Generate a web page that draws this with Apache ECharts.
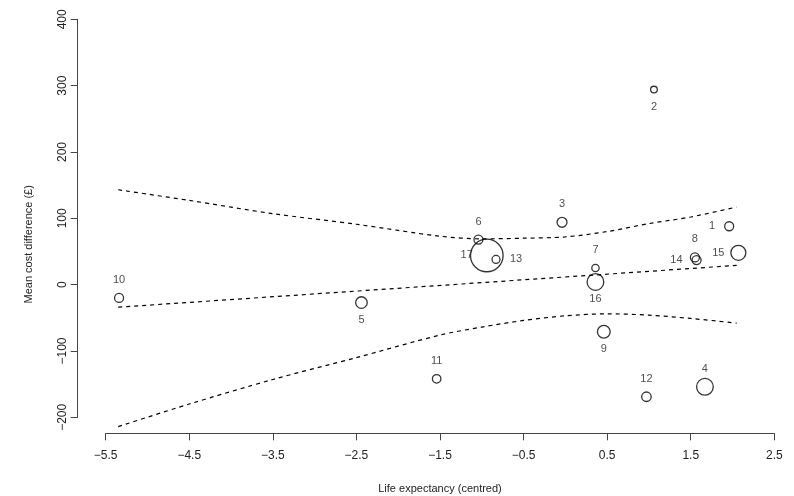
<!DOCTYPE html>
<html>
<head>
<meta charset="utf-8">
<script src="https://cdn.jsdelivr.net/npm/echarts@6.0.0/dist/echarts.min.js"></script>
<style>
html, body { margin: 0; padding: 0; background: #fff; }
#chart { width: 794px; height: 496px; }
</style>
</head>
<body>
<div id="chart"></div>
<script>
//   studies
var studyIds = ['1', '2', '3', '4', '5', '6', '7', '8', '9', '10', '11', '12', '13', '14', '15', '16', '17'];
var lifeExp  = [1.96, 1.06, -0.04, 1.67, -2.44, -1.04, 0.36, 1.55, 0.46, -5.34, -1.54, 0.97, -0.83, 1.57, 2.07, 0.36, -0.94];
var costDiff = [88, 294, 94, -154, -27, 68, 25, 41, -71, -20, -142, -169, 38, 37, 48, 4, 44];
var weights  = [9, 5, 11, 31, 15, 9, 6, 9, 18, 9, 8, 10, 7, 9, 25, 31, 118];

//   fitted line
var fitX = [-5.35, 2.05];
var fitY = [-34, 29];

//   confidence band
var bandX     = [-5.35, -4.5, -3.5, -2.5, -1.5, -1.0, -0.5, 0, 0.5, 1.0, 1.5, 2.05];
var bandUpper = [143, 127, 107, 91, 73, 69, 70, 72, 80, 92, 102, 117];
var bandLower = [-214, -180, -143, -110, -76, -64, -54, -47, -44, -46, -51, -58];

//   ticks
var xTicks = [-5.5, -4.5, -3.5, -2.5, -1.5, -0.5, 0.5, 1.5, 2.5];
var yTicks = [-200, -100, 0, 100, 200, 300, 400];

var FONT = '"Liberation Sans", Arial, sans-serif';

//   which side the number sits
var labelSide = {
	'1': 'left', '2': 'bottom', '3': 'top', '4': 'top', '5': 'bottom', '6': 'top',
	'7': 'top', '8': 'top', '9': 'bottom', '10': 'top', '11': 'top', '12': 'top',
	'13': 'right', '14': 'left', '15': 'left', '16': 'bottom', '17': 'left'
};

var labelFor = function (id) {
	var side = labelSide[id];
	var l = { show: true, position: 'inside', formatter: id, fontSize: 11, color: '#222', fontFamily: FONT };
	if (side == 'top') { l.offset = [0, -18]; }
	if (side == 'bottom') { l.offset = [0, 17]; }
	if (side == 'left') { l.offset = [-14, 0]; l.align = 'right'; }
	if (side == 'right') { l.offset = [14, 0]; l.align = 'left'; }
	return l;
};

var minus = function (v) {
	return String(v).replace('-', '\u2212');
};

var points = [];
for (var i = 0; i < studyIds.length; i++) {
	points.push({ name: studyIds[i], value: [lifeExp[i], costDiff[i], weights[i]], label: labelFor(studyIds[i]) });
}

var zip = function (xs, ys) {
	var out = [];
	for (var i = 0; i < xs.length; i++) { out.push([xs[i], ys[i]]); }
	return out;
};

var dashed = { color: '#000', width: 1.2, type: [4, 4] };
var axisColor = '#444';

var chart = echarts.init(document.getElementById('chart'));
var option = {
	animation: false,
	backgroundColor: '#fff',
	textStyle: { fontFamily: FONT },
	grid: { left: 105.7, right: 19.7, top: 19.3, bottom: 78.7, outerBoundsMode: 'none' },
	xAxis: {
		type: 'value',
		min: -5.5,
		max: 2.5,
		offset: 16,
		name: 'Life expectancy (centred)',
		nameLocation: 'middle',
		nameGap: 50,
		nameTextStyle: { fontSize: 11, color: '#222', fontFamily: FONT },
		axisLine: { onZero: false, lineStyle: { color: axisColor } },
		axisTick: { length: 7, customValues: xTicks, lineStyle: { color: axisColor } },
		axisLabel: { customValues: xTicks, margin: 16, fontSize: 12, color: '#222', fontFamily: FONT, formatter: minus },
		splitLine: { show: false }
	},
	yAxis: {
		type: 'value',
		min: -200,
		max: 400,
		offset: 28,
		name: 'Mean cost difference (\u00a3)',
		nameLocation: 'middle',
		nameGap: 43,
		nameTextStyle: { fontSize: 11, color: '#222', fontFamily: FONT, padding: [0, 52, 0, 0] },
		axisLine: { onZero: false, lineStyle: { color: axisColor } },
		axisTick: { length: 7, customValues: yTicks, lineStyle: { color: axisColor } },
		axisLabel: { customValues: yTicks, rotate: 90, margin: 9, fontSize: 12, color: '#222', fontFamily: FONT, formatter: minus },
		splitLine: { show: false }
	},
	series: [
		{
			type: 'line',
			data: zip(bandX, bandUpper),
			smooth: 0.3,
			symbol: 'none',
			clip: false,
			lineStyle: dashed,
			silent: true
		},
		{
			type: 'line',
			data: zip(bandX, bandLower),
			smooth: 0.3,
			symbol: 'none',
			clip: false,
			lineStyle: dashed,
			silent: true
		},
		{
			type: 'line',
			data: zip(fitX, fitY),
			symbol: 'none',
			clip: false,
			lineStyle: dashed,
			silent: true
		},
		{
			type: 'scatter',
			data: points,
			symbol: 'circle',
			symbolSize: function (v) { return 3 * Math.sqrt(v[2]); },
			itemStyle: { color: 'rgba(0,0,0,0)', borderColor: '#000', borderWidth: 1.3 },
			z: 5
		}
	]
};
chart.setOption(option);
</script>
</body>
</html>
